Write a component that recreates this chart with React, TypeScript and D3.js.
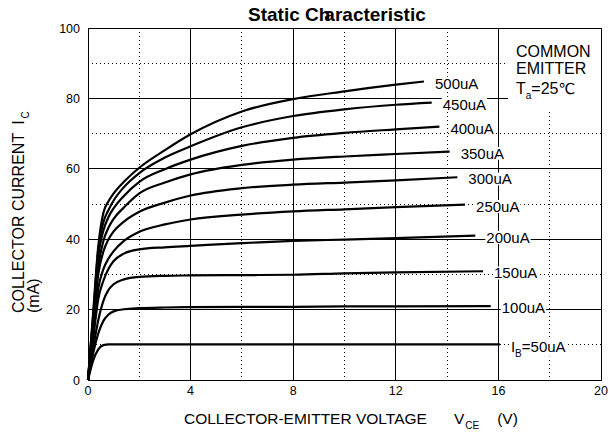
import React, { useRef, useEffect } from 'react';
import * as d3 from 'd3';

// grid ticks
const X_MAJOR = [0, 4, 8, 12, 16, 20];
const X_MINOR = [2, 6, 10, 14, 18];
const Y_MAJOR = [0, 20, 40, 60, 80, 100];
const Y_MINOR = [10, 30, 50, 70, 90];

// VCE sample points shared by every curve (V), the last point of each curve is in VCE_END
const VCE_KNOTS = [0, 0.2, 0.4, 0.6, 0.8, 1, 1.4, 2, 3, 4, 6, 8, 10, 12];
const VCE_END = [16.06, 15.7, 15.4, 15.1, 14.7, 14.4, 14.1, 13.7, 13.4, 13.1];

// IC (mA) per base current, read at VCE_KNOTS + end point
const IC_50UA = [0, 5.5, 8.7, 9.9, 10.1, 10.1, 10.1, 10.1, 10.1, 10.1, 10.1, 10.1, 10.1, 10.1, 10.1];
const IC_100UA = [0, 7.5, 13.2, 16.8, 18.6, 19.5, 20.1, 20.4, 20.6, 20.7, 20.8, 20.8, 20.9, 20.9, 21.0];
const IC_150UA = [0, 9, 17, 22.5, 25.6, 27.2, 28.6, 29.3, 29.6, 29.7, 29.8, 29.9, 30.3, 30.6, 30.9];
const IC_200UA = [0, 11.5, 23, 28.2, 31.6, 33.8, 35.9, 37.1, 37.7, 38.1, 38.9, 39.5, 39.9, 40.3, 41.0];
const IC_250UA = [0, 13, 26, 31.5, 34.5, 36.6, 39.5, 42.1, 44.2, 45.6, 47, 47.9, 48.5, 49.1, 49.8];
const IC_300UA = [0, 15, 30, 36.5, 40, 42.2, 45, 47.8, 50.4, 52.4, 54.5, 55.5, 56.1, 56.7, 57.6];
const IC_350UA = [0, 16, 32, 39.5, 43.3, 45.8, 49, 53, 56.1, 58.4, 61.1, 62.6, 63.5, 64.2, 64.9];
const IC_400UA = [0, 17, 35, 42.5, 46.3, 48.8, 52.3, 56.3, 59.9, 62.6, 66.5, 68.8, 70.2, 71.2, 72];
const IC_450UA = [0, 18, 37, 44.8, 48.3, 51, 54.8, 58.8, 63.2, 66.4, 71.8, 75.0, 76.9, 78.2, 78.8];
const IC_500UA = [0, 19, 38, 47.5, 50.8, 53, 56.3, 60.3, 65.3, 69.8, 76.3, 79.8, 82.0, 83.9, 84.8];

const IB_LABELS = ['50uA', '100uA', '150uA', '200uA', '250uA', '300uA', '350uA', '400uA', '450uA', '500uA'];
const IC_SERIES = [IC_50UA, IC_100UA, IC_150UA, IC_200UA, IC_250UA, IC_300UA, IC_350UA, IC_400UA, IC_450UA, IC_500UA];

const FONT = 'Liberation Sans, Arial, Helvetica, sans-serif';

export default function App() {
    const ref = useRef<SVGSVGElement>(null);
    const width = 611;
    const height = 434;
    const plot = { left: 88, right: 601, top: 28, bottom: 380 };

    useEffect(() => {
        if (!ref.current) return;
        const svg = d3.select(ref.current);
        svg.selectAll('*').remove();
        svg.attr('font-family', FONT);

        const x = d3.scaleLinear().domain([0, 20]).range([plot.left, plot.right]);
        const y = d3.scaleLinear().domain([0, 100]).range([plot.bottom, plot.top]);

        svg.append('rect').attr('width', width).attr('height', height).attr('fill', '#fff');

        // grid
        const grid = svg.append('g').attr('shape-rendering', 'crispEdges');
        grid.selectAll('.vmin').data(X_MINOR).join('line')
            .attr('x1', d => x(d)).attr('x2', d => x(d))
            .attr('y1', plot.top).attr('y2', plot.bottom)
            .attr('stroke', '#000').attr('stroke-dasharray', '1,3');
        grid.selectAll('.hmin').data(Y_MINOR).join('line')
            .attr('y1', d => y(d)).attr('y2', d => y(d))
            .attr('x1', plot.left).attr('x2', plot.right)
            .attr('stroke', '#000').attr('stroke-dasharray', '1,3');
        grid.selectAll('.vmaj').data(X_MAJOR).join('line')
            .attr('x1', d => x(d)).attr('x2', d => x(d))
            .attr('y1', plot.top).attr('y2', plot.bottom)
            .attr('stroke', '#000');
        grid.selectAll('.hmaj').data(Y_MAJOR).join('line')
            .attr('y1', d => y(d)).attr('y2', d => y(d))
            .attr('x1', plot.left).attr('x2', plot.right)
            .attr('stroke', '#000');

        // curves
        const line = d3.line<[number, number]>()
            .x(d => x(d[0]))
            .y(d => y(d[1]))
            .curve(d3.curveMonotoneX);

        const series = IC_SERIES.map((ic, k) =>
            ic.map((v, j) => [j < VCE_KNOTS.length ? VCE_KNOTS[j] : VCE_END[k], v] as [number, number])
        );

        svg.append('g').selectAll('path').data(series).join('path')
            .attr('d', d => line(d))
            .attr('fill', 'none')
            .attr('stroke', '#000')
            .attr('stroke-width', 2.2)
            .attr('stroke-linejoin', 'round');

        // curve labels with white backgrounds
        const labels = svg.append('g').attr('font-size', 15);
        series.forEach((s, k) => {
            const end = s[s.length - 1];
            const g = labels.append('g');
            const t = g.append('text')
                .attr('x', x(end[0]) + 11)
                .attr('y', y(end[1]) + 2)
                .attr('dy', '0.35em');
            if (k === 0) {
                t.append('tspan').text('I');
                t.append('tspan').attr('font-size', 10).attr('dy', 5).text('B');
                t.append('tspan').attr('dy', -5).text('=' + IB_LABELS[k]);
            } else {
                t.text(IB_LABELS[k]);
            }
            const bb = (t.node() as SVGTextElement).getBBox();
            g.insert('rect', 'text')
                .attr('x', bb.x - 1).attr('y', bb.y + 2)
                .attr('width', bb.width + 2).attr('height', bb.height - 4)
                .attr('fill', '#fff');
        });

        // condition box
        svg.append('rect')
            .attr('x', 508).attr('y', plot.top + 1)
            .attr('width', plot.right - 508).attr('height', 80)
            .attr('fill', '#fff');
        const cond = svg.append('g').attr('font-size', 16);
        cond.append('text').attr('x', 516).attr('y', 57).text('COMMON');
        cond.append('text').attr('x', 516).attr('y', 74).text('EMITTER');
        const ta = cond.append('text').attr('x', 516).attr('y', 94);
        ta.append('tspan').text('T');
        ta.append('tspan').attr('font-size', 10).attr('dy', 5).text('a');
        ta.append('tspan').attr('dy', -5).text('=25');
        ta.append('tspan').attr('font-family', 'DejaVu Sans').attr('font-size', 15).text('\u2103');

        // border
        svg.append('rect')
            .attr('x', plot.left).attr('y', plot.top)
            .attr('width', plot.right - plot.left).attr('height', plot.bottom - plot.top)
            .attr('fill', 'none').attr('stroke', '#000')
            .attr('shape-rendering', 'crispEdges');

        // tick labels
        svg.append('g').attr('font-size', 12.5).attr('text-anchor', 'middle')
            .selectAll('text').data(X_MAJOR).join('text')
            .attr('x', d => x(d)).attr('y', 395)
            .text(d => d);
        svg.append('g').attr('font-size', 12.5).attr('text-anchor', 'end')
            .selectAll('text').data(Y_MAJOR).join('text')
            .attr('x', 80).attr('y', d => y(d) + 4.5)
            .text(d => d);

        // title
        const title = svg.append('text')
            .attr('x', 248).attr('y', 21)
            .attr('font-size', 19).attr('font-weight', 'bold');
        title.append('tspan').text('Static Ch');
        title.append('tspan').attr('dx', -6).text('aracteristic');

        // x axis title
        const xt = svg.append('text').attr('x', 184).attr('y', 424).attr('font-size', 15.5);
        xt.append('tspan').text('COLLECTOR-EMITTER VOLTAGE');
        xt.append('tspan').attr('dx', 27).text('V');
        xt.append('tspan').attr('font-size', 10).attr('dx', 1).attr('dy', 5).text('CE');
        xt.append('tspan').attr('dx', 18).attr('dy', -5).text('(V)');

        // y axis title
        const yt = svg.append('g').attr('transform', 'translate(24,313) rotate(-90)').attr('font-size', 16);
        const yl = yt.append('text').attr('x', 0).attr('y', 0);
        yl.append('tspan').text('COLLECTOR CURRENT');
        yl.append('tspan').attr('dx', 8).text('I');
        yl.append('tspan').attr('font-size', 10).attr('dx', 2).attr('dy', 5).text('C');
        yt.append('text').attr('x', 0).attr('y', 15).text('(mA)');
    }, []);

    return (
        <svg ref={ref} width={width} height={height}
            style={{ position: 'absolute', left: 0, top: 0, display: 'block' }} />
    );
}
